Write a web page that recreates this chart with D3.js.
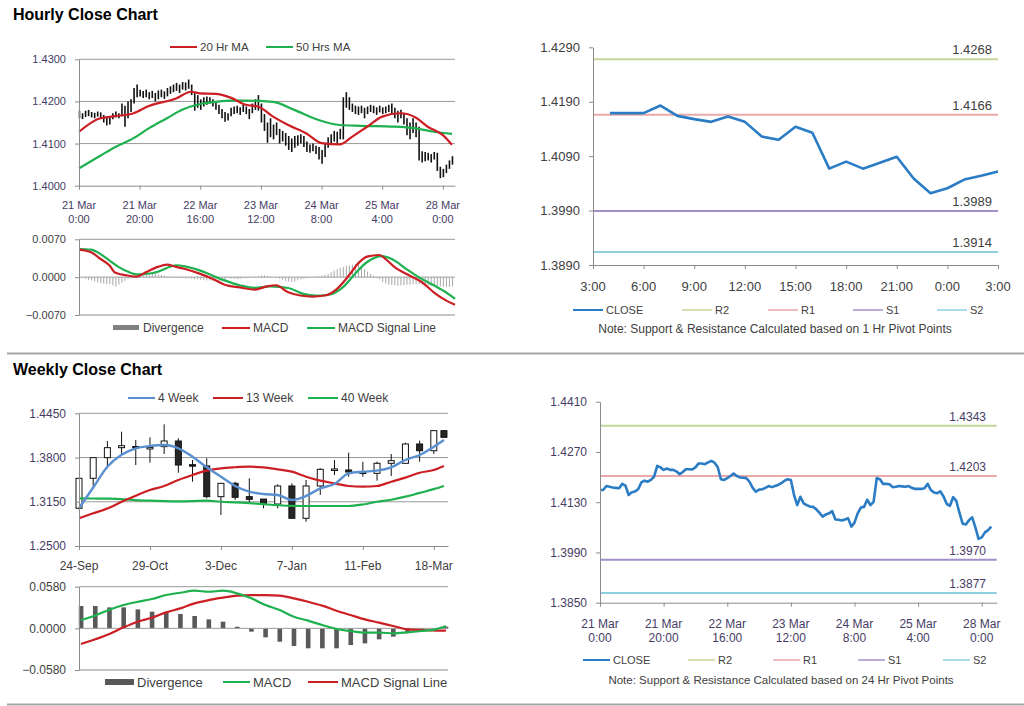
<!DOCTYPE html>
<html><head><meta charset="utf-8">
<script src="https://cdn.jsdelivr.net/npm/d3@7"></script>
<style>body{margin:0;background:#fff;} svg{display:block;font-family:"Liberation Sans",Arial,sans-serif;}</style>
</head><body><svg id="c" width="1024" height="706"></svg>
<script>
// ---------------- DATA ----------------
const hourTickIdx = [0,20,40,60,80,100,120];
const hourTickL1 = ["21 Mar","21 Mar","22 Mar","23 Mar","24 Mar","25 Mar","28 Mar"];
const hourTickL2 = ["0:00","20:00","16:00","12:00","8:00","4:00","0:00"];

const hourlyLow = [1.4160,1.4158,1.4163,1.4165,1.4162,1.4160,1.4164,1.4158,1.4150,1.4143,1.4145,1.4158,1.4162,1.4160,1.4165,1.4140,1.4160,1.4175,1.4195,1.4210,
1.4212,1.4208,1.4210,1.4205,1.4208,1.4200,1.4205,1.4210,1.4206,1.4212,1.4218,1.4222,1.4225,1.4220,1.4228,1.4226,1.4230,1.4215,1.4178,1.4185,
1.4180,1.4188,1.4192,1.4195,1.4188,1.4180,1.4170,1.4160,1.4152,1.4155,1.4165,1.4170,1.4172,1.4168,1.4175,1.4170,1.4158,1.4172,1.4180,1.4178,
1.4150,1.4130,1.4102,1.4115,1.4110,1.4120,1.4100,1.4105,1.4095,1.4085,1.4080,1.4090,1.4095,1.4100,1.4092,1.4080,1.4078,1.4082,1.4075,1.4062,
1.4052,1.4068,1.4090,1.4098,1.4105,1.4100,1.4110,1.4110,1.4185,1.4180,1.4175,1.4170,1.4168,1.4172,1.4160,1.4170,1.4175,1.4172,1.4168,1.4174,
1.4170,1.4172,1.4175,1.4168,1.4160,1.4150,1.4160,1.4145,1.4120,1.4110,1.4125,1.4115,1.4060,1.4055,1.4058,1.4060,1.4055,1.4062,1.4035,1.4018,
1.4020,1.4030,1.4040,1.4050];
const hourlyHigh = [1.4178,1.4172,1.4178,1.4180,1.4175,1.4173,1.4176,1.4174,1.4168,1.4162,1.4165,1.4172,1.4176,1.4172,1.4195,1.4190,1.4200,1.4205,1.4232,1.4240,
1.4228,1.4225,1.4228,1.4222,1.4225,1.4220,1.4226,1.4228,1.4224,1.4232,1.4236,1.4240,1.4244,1.4240,1.4246,1.4245,1.4252,1.4240,1.4222,1.4215,
1.4205,1.4210,1.4212,1.4210,1.4205,1.4198,1.4192,1.4182,1.4175,1.4172,1.4185,1.4188,1.4190,1.4186,1.4192,1.4188,1.4182,1.4195,1.4205,1.4215,
1.4195,1.4170,1.4150,1.4160,1.4145,1.4150,1.4135,1.4130,1.4125,1.4118,1.4112,1.4118,1.4120,1.4122,1.4118,1.4105,1.4098,1.4100,1.4095,1.4092,
1.4085,1.4100,1.4115,1.4122,1.4130,1.4128,1.4135,1.4210,1.4222,1.4210,1.4195,1.4190,1.4188,1.4190,1.4185,1.4188,1.4192,1.4190,1.4186,1.4190,
1.4186,1.4188,1.4192,1.4195,1.4185,1.4178,1.4180,1.4172,1.4160,1.4150,1.4160,1.4150,1.4140,1.4082,1.4080,1.4078,1.4075,1.4080,1.4078,1.4045,
1.4040,1.4050,1.4060,1.4070];

const ma20Idx = [0,7,12,18,23,32,37,40,45,50,55,59,64,69,75,80,86,90,95,100,106,111,115,120,123];
const ma20Val = [1.4128,1.4160,1.4165,1.4172,1.4189,1.4207,1.4223,1.4219,1.4218,1.4209,1.4192,1.4188,1.4164,1.4144,1.4124,1.4101,1.4098,1.4116,1.4140,1.4164,1.4172,1.4162,1.4140,1.4120,1.4097];
const ma50Idx = [0,7,12,18,23,29,34,40,45,50,55,64,71,79,86,93,104,111,117,123];
const ma50Val = [1.4041,1.4071,1.4092,1.4113,1.4136,1.4160,1.4180,1.4194,1.4199,1.4202,1.4202,1.4199,1.4180,1.4156,1.4144,1.4142,1.4140,1.4136,1.4128,1.4123];

const hMacdIdx = [0,4,7,10,12,16,19,22,26,29,32,35,40,44,48,53,58,62,65,69,73,77,81,85,89,92,95,99,101,104,109,113,117,121,124];
const hMacdVal = [0.0051,0.0046,0.0034,0.0022,0.0008,0.0003,0.0001,0.0009,0.0019,0.0023,0.0019,0.0015,0.0006,-0.0003,-0.0014,-0.0019,-0.0023,-0.0017,-0.0015,-0.0028,-0.0034,-0.0036,-0.0034,-0.0022,0.0003,0.0025,0.0038,0.0041,0.0034,0.0019,0.0003,-0.0009,-0.0028,-0.0043,-0.0051];
const hSigIdx = [0,4,7,10,13,17,19,22,26,29,32,35,40,44,48,53,58,63,69,74,78,82,87,91,95,100,103,108,112,117,121,124];
const hSigVal = [0.0052,0.0051,0.0043,0.0031,0.0019,0.0008,0.0005,0.0006,0.0010,0.0017,0.0022,0.0020,0.0012,0.0003,-0.0006,-0.0015,-0.0020,-0.0017,-0.0020,-0.0031,-0.0034,-0.0033,-0.0019,0.0006,0.0028,0.0039,0.0034,0.0015,0.0000,-0.0015,-0.0028,-0.0040];
const hDiv = [0,0,-0.0003,-0.0005,-0.0006,-0.0008,-0.0010,-0.0011,-0.0012,-0.0013,-0.0013,-0.0015,-0.0018,-0.0014,-0.0010,-0.0007,-0.0004,-0.0002,-0.0001,0.0001,
0.0002,0.0003,0.0004,0.0005,0.0006,0.0006,0.0005,0.0004,0.0003,0.0001,0,-0.0001,-0.0001,-0.0001,-0.0001,-0.0002,-0.0002,-0.0003,-0.0004,-0.0004,
-0.0005,-0.0005,-0.0006,-0.0006,-0.0007,-0.0007,-0.0008,-0.0008,-0.0006,-0.0002,-0.0003,-0.0003,-0.0004,-0.0003,-0.0002,-0.0002,-0.0001,0,0.0001,0.0002,
0.0003,0.0003,0.0002,0.0001,0,-0.0001,-0.0003,-0.0005,-0.0007,-0.0008,-0.0009,-0.0008,-0.0006,-0.0004,-0.0003,-0.0002,-0.0001,0,0.0001,0.0002,
0.0003,0.0004,0.0006,0.0009,0.0012,0.0015,0.0017,0.0019,0.0021,0.0022,0.0023,0.0024,0.0025,0.0020,0.0015,0.0010,0.0006,0.0003,0.0001,-0.0004,
-0.0009,-0.0012,-0.0014,-0.0015,-0.0015,-0.0016,-0.0015,-0.0015,-0.0014,-0.0014,-0.0013,-0.0013,-0.0013,-0.0014,-0.0014,-0.0015,-0.0016,-0.0016,-0.0017,-0.0017,
-0.0018,-0.0018,-0.0018,-0.0017];

// 1 Hr pivot chart
const pivHourTicks = ["3:00","6:00","9:00","12:00","15:00","18:00","21:00","0:00","3:00"];
const pivHourClose = [1.4169,1.4169,1.4169,1.4183,1.4164,1.4158,1.4153,1.4163,1.4153,1.4126,1.4120,1.4144,1.4133,1.4067,1.4080,1.4067,1.4078,1.4089,1.4049,1.4022,1.4031,1.4047,1.4054,1.4062];
const pivot1Names = ["R2","R1","S1","S2"];
const pivot1Vals = [1.4268,1.4166,1.3989,1.3914];

// 24 Hr pivot chart
const hourClose = [1.4164,1.4164,1.4175,1.4173,1.4171,1.4170,1.4169,1.4181,1.4176,1.4150,1.4158,1.4160,1.4166,1.4185,1.4190,1.4187,1.4192,1.4201,1.4231,1.4227,
1.4220,1.4224,1.4220,1.4220,1.4216,1.4208,1.4214,1.4222,1.4222,1.4221,1.4227,1.4238,1.4238,1.4236,1.4241,1.4245,1.4240,1.4228,1.4194,1.4192,
1.4197,1.4203,1.4210,1.4203,1.4199,1.4198,1.4197,1.4187,1.4170,1.4159,1.4165,1.4166,1.4170,1.4175,1.4172,1.4175,1.4178,1.4183,1.4190,1.4194,
1.4192,1.4150,1.4122,1.4145,1.4127,1.4122,1.4118,1.4117,1.4110,1.4100,1.4090,1.4096,1.4099,1.4105,1.4082,1.4081,1.4079,1.4082,1.4085,1.4062,
1.4073,1.4099,1.4115,1.4117,1.4137,1.4122,1.4131,1.4197,1.4194,1.4181,1.4181,1.4180,1.4172,1.4173,1.4175,1.4174,1.4173,1.4175,1.4170,1.4167,
1.4167,1.4167,1.4169,1.4181,1.4164,1.4157,1.4155,1.4160,1.4146,1.4125,1.4120,1.4144,1.4134,1.4100,1.4070,1.4068,1.4080,1.4088,1.4060,1.4028,
1.4032,1.4046,1.4052,1.4062];
const pivot24Vals = [1.4343,1.4203,1.3970,1.3877];

// Weekly
const weekDates = ["2010-09-24","2010-10-01","2010-10-08","2010-10-15","2010-10-22","2010-10-29","2010-11-05","2010-11-12","2010-11-19","2010-11-26",
"2010-12-03","2010-12-10","2010-12-17","2010-12-24","2010-12-31","2011-01-07","2011-01-14","2011-01-21","2011-01-28","2011-02-04",
"2011-02-11","2011-02-18","2011-02-25","2011-03-04","2011-03-11","2011-03-18","2011-03-23"];
const weekTickDates = ["2010-09-24","2010-10-29","2010-12-03","2011-01-07","2011-02-11","2011-03-18"];
const weekTickLabels = ["24-Sep","29-Oct","3-Dec","7-Jan","11-Feb","18-Mar"];
const wOpen  = [1.3054,1.3495,1.3798,1.3945,1.3962,1.3945,1.3960,1.4043,1.3695,1.3676,1.3225,1.3421,1.3225,1.3190,1.3117,1.3382,1.2907,1.3382,1.3622,1.3617,1.3587,1.3568,1.3715,1.3715,1.3999,1.3900,1.4195];
const wClose = [1.3495,1.3798,1.3945,1.3974,1.3955,1.3948,1.4043,1.3690,1.3690,1.3225,1.3421,1.3215,1.3186,1.3117,1.3382,1.2907,1.3382,1.3627,1.3632,1.3587,1.3577,1.3715,1.3754,1.3999,1.3900,1.4195,1.4097];
const wHigh  = [1.3500,1.3800,1.4043,1.4180,1.4058,1.4097,1.4288,1.4083,1.3764,1.3789,1.3421,1.3445,1.3495,1.3190,1.3406,1.3421,1.3470,1.3642,1.3764,1.3871,1.3739,1.3739,1.3852,1.4018,1.4048,1.4195,1.4195];
const wLow   = [1.3040,1.3382,1.3642,1.3837,1.3690,1.3724,1.3852,1.3577,1.3445,1.3201,1.2956,1.3176,1.3127,1.3054,1.3054,1.2907,1.2857,1.3250,1.3543,1.3518,1.3518,1.3460,1.3528,1.3715,1.3739,1.3852,1.4097];
const ma4w  = [1.3054,1.3360,1.3665,1.3840,1.3936,1.3969,1.3984,1.3936,1.3812,1.3656,1.3518,1.3382,1.3298,1.3264,1.3250,1.3176,1.3235,1.3348,1.3411,1.3568,1.3592,1.3607,1.3656,1.3764,1.3837,1.3960,1.4058];
const ma13w = [1.2907,1.2980,1.3050,1.3150,1.3240,1.3323,1.3382,1.3470,1.3543,1.3607,1.3642,1.3657,1.3665,1.3656,1.3627,1.3592,1.3518,1.3460,1.3421,1.3382,1.3372,1.3382,1.3445,1.3505,1.3577,1.3617,1.3676];
const ma40w = [1.3201,1.3198,1.3196,1.3190,1.3175,1.3166,1.3160,1.3157,1.3160,1.3166,1.3150,1.3142,1.3130,1.3115,1.3100,1.3090,1.3088,1.3088,1.3088,1.3088,1.3110,1.3150,1.3180,1.3225,1.3280,1.3335,1.3382];
const wDiv  = [0.0311,0.0311,0.0292,0.0292,0.0264,0.0232,0.0218,0.0200,0.0172,0.0125,0.0093,0.0023,-0.0046,-0.0125,-0.0186,-0.0246,-0.0278,-0.0278,-0.0278,-0.0232,-0.0209,-0.0153,-0.0116,-0.0060,-0.0023,-0.0014,0.0023];
const wMacd = [0.0116,0.0180,0.0260,0.0325,0.0370,0.0408,0.0464,0.0496,0.0524,0.0510,0.0524,0.0487,0.0418,0.0325,0.0255,0.0162,0.0107,0.0046,-0.0009,-0.0037,-0.0060,-0.0060,-0.0070,-0.0056,-0.0037,-0.0014,0.0032];
const wSig  = [-0.0218,-0.0153,-0.0079,0.0014,0.0093,0.0148,0.0223,0.0278,0.0348,0.0394,0.0427,0.0455,0.0464,0.0464,0.0455,0.0418,0.0371,0.0316,0.0246,0.0186,0.0125,0.0079,0.0032,-0.0014,-0.0023,-0.0032,-0.0032];

// ---------------- STYLE ----------------
const AX = "#8c8c8c", GRID = "#9a9a9a", TXT = "#404040", PUR = "#463c64";
const RED = "#cc1f24", GREEN = "#1fb050", BLUE = "#5a8fd0", CLOSEC = "#2a7cc4";
const PIVC = ["#c3d69b","#eba9a9","#a390c8","#8ecfe0"];
const svg = d3.select("#c");
const parse = d3.timeParse("%Y-%m-%d");

function txt(x,y,s,size,opts={}) {
  const t = svg.append("text").attr("x",x).attr("y",y).text(s).attr("font-size",size)
    .attr("fill",opts.fill||TXT).attr("text-anchor",opts.anchor||"start");
  if (opts.bold) t.attr("font-weight","bold");
  return t;
}
function hline(x1,x2,y,color,w){ svg.append("line").attr("x1",x1).attr("x2",x2).attr("y1",y).attr("y2",y).attr("stroke",color).attr("stroke-width",w); }
function yAxis(x, scale, ticks, fmt, size, color){
  const g = svg.append("g").attr("transform",`translate(${x},0)`)
    .call(d3.axisLeft(scale).tickValues(ticks).tickFormat(fmt).tickSize(4).tickSizeOuter(0).tickPadding(9));
  g.select(".domain").attr("stroke",AX);
  g.selectAll(".tick line").attr("stroke",AX);
  g.selectAll("text").attr("font-size",size).attr("fill",color).attr("font-family","Liberation Sans, Arial, sans-serif");
  return g;
}
function xAxis(y, scale, ticks, size, color, l1, l2, d1, d2){
  const g = svg.append("g").attr("transform",`translate(0,${y})`)
    .call(d3.axisBottom(scale).tickValues(ticks).tickFormat("").tickSize(4).tickSizeOuter(0));
  g.select(".domain").attr("stroke",AX);
  g.selectAll(".tick line").attr("stroke",AX);
  ticks.forEach((t,i)=>{
    txt(scale(t), y+d1, l1[i], size, {anchor:"middle", fill:color});
    if (l2) txt(scale(t), y+d2, l2[i], size, {anchor:"middle", fill:color});
  });
}
function legendLine(x1,x2,y,color,label,size,w=2){
  hline(x1,x2,y,color,w);
  txt(x2+3,y+size*0.36,label,size,{fill:TXT});
}

// ---------------- TITLES & SEPARATORS ----------------
txt(13,20,"Hourly Close Chart",16,{bold:true,fill:"#000"});
txt(13,375,"Weekly Close Chart",16,{bold:true,fill:"#000"});
hline(7,1024,353.5,"#a6a6a6",2);
hline(7,1024,704.5,"#a6a6a6",2);

// ---------------- PANEL 1: hourly bars ----------------
{
  const x = d3.scaleLinear().domain([0,124]).range([79,455]);
  const y = d3.scaleLinear().domain([1.40,1.43]).range([185.7,59.3]);
  [1.41,1.42,1.43].forEach(v=>hline(79,455,y(v),GRID,1));
  svg.append("g").selectAll("line").data(hourlyLow).join("line")
    .attr("x1",(d,i)=>x(i)+0.5).attr("x2",(d,i)=>x(i)+0.5)
    .attr("y1",d=>y(d)).attr("y2",(d,i)=>y(hourlyHigh[i]))
    .attr("stroke","#111").attr("stroke-width",1.6);
  const line = d3.line().x(d=>x(d[0])).y(d=>y(d[1])).curve(d3.curveMonotoneX);
  svg.append("path").datum(ma50Idx.map((d,i)=>[d,ma50Val[i]])).attr("d",line).attr("fill","none").attr("stroke",GREEN).attr("stroke-width",2.2);
  svg.append("path").datum(ma20Idx.map((d,i)=>[d,ma20Val[i]])).attr("d",line).attr("fill","none").attr("stroke",RED).attr("stroke-width",2.2);
  yAxis(79,y,[1.40,1.41,1.42,1.43],d3.format(".4f"),11,PUR);
  xAxis(185.7,x,hourTickIdx,11,PUR,hourTickL1,hourTickL2,23,37);
  legendLine(170,197,47,RED,"20 Hr MA",11.5);
  legendLine(266,293,47,GREEN,"50 Hrs MA",11.5);
}

// ---------------- PANEL 1b: hourly MACD ----------------
{
  const x = d3.scaleLinear().domain([0,124]).range([79,455]);
  const y = d3.scaleLinear().domain([-0.007,0.007]).range([315,239.3]);
  hline(79,455,y(0.007),GRID,1);
  hline(79,455,y(0),GRID,1);
  hline(79,455,y(-0.007),AX,1);
  svg.append("g").selectAll("line").data(hDiv).join("line")
    .attr("x1",(d,i)=>x(i)+0.5).attr("x2",(d,i)=>x(i)+0.5)
    .attr("y1",y(0)).attr("y2",d=>y(d)).attr("stroke","#a8a8a8").attr("stroke-width",1);
  const line = d3.line().x(d=>x(d[0])).y(d=>y(d[1])).curve(d3.curveMonotoneX);
  svg.append("path").datum(hSigIdx.map((d,i)=>[d,hSigVal[i]])).attr("d",line).attr("fill","none").attr("stroke",GREEN).attr("stroke-width",2.2);
  svg.append("path").datum(hMacdIdx.map((d,i)=>[d,hMacdVal[i]])).attr("d",line).attr("fill","none").attr("stroke",RED).attr("stroke-width",2.2);
  yAxis(79,y,[-0.007,0,0.007],d3.format(".4f"),11,TXT);
  svg.append("rect").attr("x",113).attr("y",325).attr("width",26).attr("height",5).attr("fill","#808080");
  txt(143,332,"Divergence",12);
  legendLine(222,250,328,RED,"MACD",12);
  legendLine(307,335,328,GREEN,"MACD Signal Line",12);
}

// ---------------- PANEL 2: 1 Hr pivots ----------------
{
  const x = d3.scaleLinear().domain([0,24]).range([593,998]);
  const y = d3.scaleLinear().domain([1.389,1.429]).range([265,47.3]);
  pivot1Vals.forEach((v,i)=>{
    hline(593,998,y(v),PIVC[i],2);
    txt(992,y(v)-5,d3.format(".4f")(v),13,{anchor:"end",fill:TXT});
  });
  svg.append("path").datum(pivHourClose).attr("d",d3.line().x((d,i)=>x(i+1)).y(d=>y(d)))
    .attr("fill","none").attr("stroke",CLOSEC).attr("stroke-width",2.6).attr("stroke-linejoin","round");
  yAxis(593,y,[1.389,1.399,1.409,1.419,1.429],d3.format(".4f"),13,TXT);
  xAxis(265,x,d3.range(0,25,3),13,TXT,pivHourTicks,null,26,0);
  const legX = [573,682,768,853,937], legN = ["CLOSE"].concat(pivot1Names), legC = [CLOSEC].concat(PIVC);
  legX.forEach((lx,i)=>legendLine(lx,lx+30,310,legC[i],legN[i],11, i==0?2:1.5));
  txt(775,333,"Note: Support & Resistance Calculated based on 1 Hr Pivot Points",12,{anchor:"middle"});
}

// ---------------- PANEL 3: weekly candles ----------------
{
  const x = d3.scaleTime().domain([parse("2010-09-24"),parse("2011-03-25")]).range([79,448]);
  const y = d3.scaleLinear().domain([1.25,1.445]).range([546,413.3]);
  [1.315,1.38,1.445].forEach(v=>hline(79,448,y(v),GRID,1));
  const wd = weekDates.map(parse);
  const g = svg.append("g");
  wd.forEach((d,i)=>{
    const cx = x(d);
    g.append("line").attr("x1",cx).attr("x2",cx).attr("y1",y(wHigh[i])).attr("y2",y(wLow[i])).attr("stroke","#111").attr("stroke-width",1);
    const top = y(Math.max(wOpen[i],wClose[i])), bot = y(Math.min(wOpen[i],wClose[i]));
    const up = wClose[i] >= wOpen[i];
    g.append("rect").attr("x",cx-3).attr("y",top).attr("width",6).attr("height",Math.max(1.5,bot-top))
      .attr("fill",up?"#fff":"#262626").attr("stroke","#111").attr("stroke-width",1);
  });
  const line = d3.line().x((d,i)=>x(wd[i])).y(d=>y(d)).curve(d3.curveMonotoneX);
  svg.append("path").datum(ma40w).attr("d",line).attr("fill","none").attr("stroke",GREEN).attr("stroke-width",2.2);
  svg.append("path").datum(ma13w).attr("d",line).attr("fill","none").attr("stroke",RED).attr("stroke-width",2.2);
  svg.append("path").datum(ma4w).attr("d",line).attr("fill","none").attr("stroke",BLUE).attr("stroke-width",2.4);
  yAxis(79,y,[1.25,1.315,1.38,1.445],d3.format(".4f"),12,PUR);
  xAxis(546,x,weekTickDates.map(parse),12,TXT,weekTickLabels,null,23.5,0);
  legendLine(128,155,398,BLUE,"4 Week",12);
  legendLine(213,243,398,RED,"13 Week",12);
  legendLine(308,338,398,GREEN,"40 Week",12);
}

// ---------------- PANEL 3b: weekly MACD ----------------
{
  const x = d3.scaleTime().domain([parse("2010-09-24"),parse("2011-03-25")]).range([79,448]);
  const y = d3.scaleLinear().domain([-0.058,0.058]).range([670,586.7]);
  const wd = weekDates.map(parse);
  hline(79,448,y(0.058),GRID,1);
  svg.append("g").selectAll("rect").data(wDiv).join("rect")
    .attr("x",(d,i)=>x(wd[i])-0.2).attr("width",4.6)
    .attr("y",d=>Math.min(y(0),y(d))).attr("height",d=>Math.abs(y(d)-y(0)))
    .attr("fill","#595959");
  hline(79,448,y(0),GRID,1);
  hline(79,448,y(-0.058),AX,1);
  const line = d3.line().x((d,i)=>x(wd[i])+2).y(d=>y(d)).curve(d3.curveMonotoneX);
  svg.append("path").datum(wSig).attr("d",line).attr("fill","none").attr("stroke",RED).attr("stroke-width",2.2);
  svg.append("path").datum(wMacd).attr("d",line).attr("fill","none").attr("stroke",GREEN).attr("stroke-width",2.2);
  yAxis(79,y,[-0.058,0,0.058],d3.format(".4f"),12,TXT);
  svg.append("rect").attr("x",105).attr("y",679).attr("width",29).attr("height",6).attr("fill","#595959");
  txt(137,686.5,"Divergence",13);
  legendLine(223,250,682,GREEN,"MACD",13);
  legendLine(308,338,682,RED,"MACD Signal Line",13);
}

// ---------------- PANEL 4: 24 Hr pivots ----------------
{
  const x = d3.scaleLinear().domain([0,124.7]).range([600,996.7]);
  const y = d3.scaleLinear().domain([1.385,1.441]).range([602.7,401.7]);
  pivot24Vals.forEach((v,i)=>{
    hline(600,996.7,y(v),PIVC[i],2);
    txt(986,y(v)-5,d3.format(".4f")(v),12,{anchor:"end",fill:PUR});
  });
  svg.append("path").datum(hourClose).attr("d",d3.line().x((d,i)=>x(i)).y(d=>y(d)))
    .attr("fill","none").attr("stroke",CLOSEC).attr("stroke-width",2.6).attr("stroke-linejoin","round");
  yAxis(600,y,[1.385,1.399,1.413,1.427,1.441],d3.format(".4f"),12,PUR);
  xAxis(602.7,x,hourTickIdx,12,PUR,hourTickL1,hourTickL2,25.5,39.5);
  const legX = [583,688,773,858,943], legN = ["CLOSE"].concat(pivot1Names), legC = [CLOSEC].concat(PIVC);
  legX.forEach((lx,i)=>legendLine(lx,lx+27,660,legC[i],legN[i],11, i==0?2:1.5));
  txt(781,684,"Note: Support & Resistance Calculated based on 24 Hr Pivot Points",11.5,{anchor:"middle"});
}
</script></body></html>
